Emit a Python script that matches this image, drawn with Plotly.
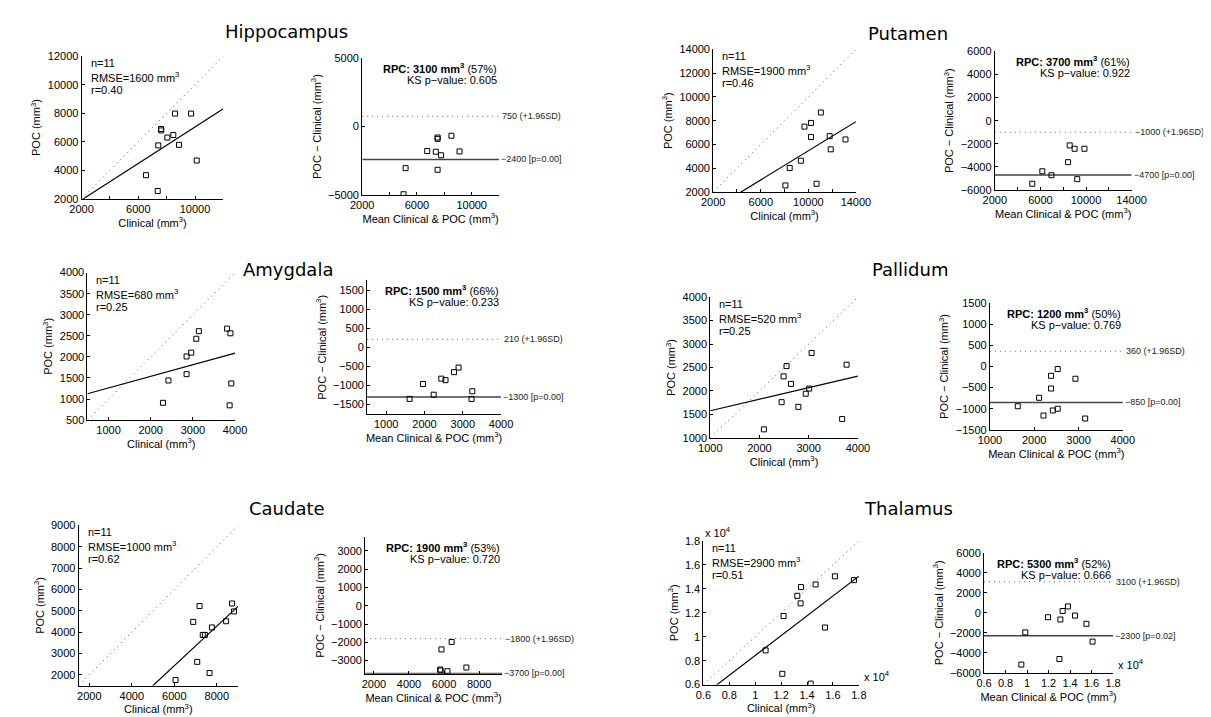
import plotly.graph_objects as go

W, H = 1211, 717
FONT = "Liberation Sans, Arial, sans-serif"
TFONT = "DejaVu Sans, Verdana, sans-serif"

regions = ["Hippocampus", "Putamen", "Amygdala", "Pallidum", "Caudate", "Thalamus"]

# ---------------- data ----------------
hip_clin = [8590, 9720, 7600, 7620, 8470, 8050, 7410, 8870, 10120, 6540, 7370]
hip_poc = [7980, 7980, 6900, 6800, 6480, 6300, 5750, 5790, 4690, 3660, 2550]
hip_mean = [8520, 7510, 7510, 6750, 7380, 7760, 9110, 5170, 7510, 5020]
hip_diff = [-670, -800, -900, -1790, -1840, -2100, -1820, -3040, -3160, -4950]

put_clin = [11050, 10220, 9670, 10220, 11790, 13120, 11880, 9370, 8430, 8070, 10690]
put_poc = [8690, 7810, 7500, 6620, 6700, 6420, 5590, 4630, 4020, 2550, 2690]
put_mean = [8570, 9000, 9860, 8430, 6170, 6970, 9230, 5290]
put_diff = [-2140, -2430, -2430, -3590, -4380, -4720, -5060, -5460]

amy_clin = [3810, 3890, 3140, 3080, 2960, 2850, 2850, 2420, 2290, 3910, 3870]
amy_poc = [2670, 2560, 2610, 2430, 2100, 2010, 1590, 1440, 910, 1370, 850]
amy_mean = [2890, 2770, 2440, 2550, 1960, 2240, 1610, 3250, 3230]
amy_diff = [-530, -650, -820, -860, -960, -1240, -1350, -1150, -1350]

pal_clin = [3060, 3770, 2550, 2490, 2640, 3010, 2940, 2450, 2790, 3680, 2090]
pal_poc = [2810, 2560, 2530, 2310, 2150, 2050, 1940, 1760, 1660, 1400, 1180]
pal_mean = [2530, 2380, 2930, 2380, 2110, 1630, 2420, 2530, 2210, 3150]
pal_diff = [-60, -220, -290, -520, -740, -940, -1040, -1000, -1160, -1230]

cau_clin = [8720, 8810, 7190, 6890, 8440, 7770, 7340, 7440, 7080, 7660, 6060]
cau_poc = [5340, 4970, 5220, 4480, 4510, 4220, 3870, 3870, 2610, 2090, 1760]
cau_mean = [5850, 6430, 5780, 5800, 6190, 7270]
cau_diff = [-2390, -1980, -3490, -3540, -3580, -3380]

tha_clin = [16150, 17620, 14660, 13530, 13250, 13500, 12190, 15390, 10800, 12090, 14280]
tha_poc = [15050, 14730, 14370, 14150, 13420, 12790, 11730, 10770, 8860, 6900, 6080]
tha_mean = [13800, 13310, 14460, 11950, 13100, 15520, 9840, 16090, 13010, 9470]
tha_diff = [640, 180, -280, -440, -670, -1100, -1960, -2880, -4620, -5180]

fit_slope = [0.64, 0.613, 0.275, 0.246, 0.926, 0.829]
fit_icpt = [645, -663, 988, 1330, -3128, 146]

n_subj = [11, 11, 11, 11, 11, 11]
rmse = [1600, 1900, 680, 520, 1000, 2900]
r_val = ["0.40", "0.46", "0.25", "0.25", "0.62", "0.51"]
rpc = [3100, 3700, 1500, 1200, 1900, 5300]
rpc_pct = [57, 61, 66, 50, 53, 52]
ks_p = ["0.605", "0.922", "0.233", "0.769", "0.720", "0.666"]
sd_upper = [750, -1000, 210, 360, -1800, 3100]
bias = [-2400, -4700, -1300, -850, -3700, -2300]
bias_p = ["0.00", "0.00", "0.00", "0.00", "0.00", "0.02"]

clinical = [hip_clin, put_clin, amy_clin, pal_clin, cau_clin, tha_clin]
poc = [hip_poc, put_poc, amy_poc, pal_poc, cau_poc, tha_poc]
ba_mean = [hip_mean, put_mean, amy_mean, pal_mean, cau_mean, tha_mean]
ba_diff = [hip_diff, put_diff, amy_diff, pal_diff, cau_diff, tha_diff]

# ---------------- layout configuration ----------------
sc_box = [(63, 208, 43, 188), (709, 855, 36, 181), (69, 220, 263, 413),
          (706, 857, 288, 431), (60, 223, 520, 683), (699, 858, 536, 682)]
ba_box = [(350, 490, 45, 184), (997, 1137, 38, 179), (355, 492, 271, 407),
          (992, 1128, 294, 423), (353, 493, 532, 671), (986, 1118, 548, 670)]
title_pos = [(273, 18), (908, 20), (274, 260), (910, 260), (273, 503), (909, 503)]

sc_range = [(2000, 12000), (2000, 14000), (500, 4000), (1000, 4000), (1500, 9000), (6000, 18000)]
ba_xrange = [(2000, 12000), (2000, 14000), (500, 4000), (1000, 4000), (1500, 9300), (6000, 18000)]
ba_yrange = [(-5000, 5000), (-6000, 6000), (-1750, 1750), (-1500, 1500), (-3720, 3750), (-6000, 6000)]

# (tick values, labelled values)
sc_xticks = [
    (list(range(2000, 12001, 2000)), [2000, 6000, 10000]),
    (list(range(2000, 14001, 2000)), [2000, 6000, 10000, 14000]),
    (list(range(1000, 4001, 1000)), list(range(1000, 4001, 1000))),
    (list(range(1000, 4001, 1000)), list(range(1000, 4001, 1000))),
    (list(range(2000, 8001, 2000)), list(range(2000, 8001, 2000))),
    (list(range(6000, 18001, 2000)), list(range(6000, 18001, 2000))),
]
sc_yticks = [
    list(range(2000, 12001, 2000)),
    list(range(2000, 14001, 2000)),
    list(range(500, 4001, 500)),
    list(range(1000, 4001, 500)),
    list(range(2000, 9001, 1000)),
    list(range(6000, 18001, 2000)),
]
ba_yticks = [
    [-5000, 0, 5000],
    list(range(-6000, 6001, 2000)),
    list(range(-1500, 1501, 500)),
    list(range(-1500, 1501, 500)),
    list(range(-3000, 3001, 1000)),
    list(range(-6000, 6001, 2000)),
]
sci = [False, False, False, False, False, True]

DOT = "1px,4px"


def fmt(v, scaled):
    if scaled:
        s = ("%.1f" % (v / 1e4)).rstrip("0").rstrip(".")
        return s
    return ("−" + str(-v)) if v < 0 else str(v)


def dom(b):
    x0, x1, y0, y1 = b
    return [x0 / W, x1 / W], [1 - y1 / H, 1 - y0 / H]


def axis_style(domain, rng, tickvals, ticktext, anchor, title):
    return dict(
        domain=domain, range=list(rng), anchor=anchor,
        showline=True, linecolor="black", linewidth=1,
        ticks="inside", ticklen=3, tickwidth=1, tickcolor="black",
        showgrid=False, zeroline=False,
        tickmode="array", tickvals=tickvals, ticktext=ticktext,
        tickfont=dict(family=FONT, size=11, color="black"),
        title=dict(text=title, font=dict(family=FONT, size=11, color="black"), standoff=4),
    )


fig = go.Figure()
layout = {}
annotations = []


def txt(xref, yref, x, y, text, size=11, xanchor="left", yanchor="middle", xshift=0, yshift=0,
        color="black", family=FONT):
    annotations.append(dict(xref=xref, yref=yref, x=x, y=y, xanchor=xanchor, yanchor=yanchor,
                            xshift=xshift, yshift=yshift, showarrow=False, text=text,
                            font=dict(family=family, size=size, color=color)))


for k in range(6):
    isc = 2 * k + 1
    iba = 2 * k + 2
    sx = "x" if isc == 1 else "x%d" % isc
    sy = "y" if isc == 1 else "y%d" % isc
    bx = "x%d" % iba
    by = "y%d" % iba
    lo, hi = sc_range[k]
    scaled = sci[k]

    # ---- scatter panel ----
    fig.add_trace(go.Scatter(x=[lo, hi], y=[lo, hi], mode="lines",
                             line=dict(color="#555", width=1, dash=DOT),
                             xaxis=sx, yaxis=sy, showlegend=False, hoverinfo="skip"))
    fig.add_trace(go.Scatter(x=[lo, hi], y=[fit_slope[k] * lo + fit_icpt[k], fit_slope[k] * hi + fit_icpt[k]],
                             mode="lines", line=dict(color="black", width=1.2),
                             xaxis=sx, yaxis=sy, showlegend=False, hoverinfo="skip"))
    fig.add_trace(go.Scatter(x=clinical[k], y=poc[k], mode="markers",
                             marker=dict(symbol="square-open", size=5, color="black", line=dict(width=1)),
                             xaxis=sx, yaxis=sy, showlegend=False))

    xd, yd = dom(sc_box[k])
    tv, lab = sc_xticks[k]
    layout["xaxis" if isc == 1 else "xaxis%d" % isc] = axis_style(
        xd, sc_range[k], tv, [fmt(v, scaled) if v in lab else "" for v in tv], sy,
        "Clinical (mm<sup>3</sup>)")
    yt = sc_yticks[k]
    layout["yaxis" if isc == 1 else "yaxis%d" % isc] = axis_style(
        yd, sc_range[k], yt, [fmt(v, scaled) for v in yt], sx, "POC (mm<sup>3</sup>)")

    sdx, sdy = sx + " domain", sy + " domain"
    txt(sdx, sdy, 0, 1, "n=%d" % n_subj[k], xshift=7, yshift=-7)
    txt(sdx, sdy, 0, 1, "RMSE=%d mm<sup>3</sup>" % rmse[k], xshift=7, yshift=-21)
    txt(sdx, sdy, 0, 1, "r=%s" % r_val[k], xshift=7, yshift=-34)

    # ---- Bland-Altman panel ----
    blo, bhi = ba_xrange[k]
    fig.add_trace(go.Scatter(x=[blo, bhi], y=[sd_upper[k], sd_upper[k]], mode="lines",
                             line=dict(color="#666", width=1, dash=DOT),
                             xaxis=bx, yaxis=by, showlegend=False, hoverinfo="skip"))
    fig.add_trace(go.Scatter(x=[blo, bhi], y=[bias[k], bias[k]], mode="lines",
                             line=dict(color="#444", width=1.5),
                             xaxis=bx, yaxis=by, showlegend=False, hoverinfo="skip"))
    fig.add_trace(go.Scatter(x=ba_mean[k], y=ba_diff[k], mode="markers",
                             marker=dict(symbol="square-open", size=5, color="black", line=dict(width=1)),
                             xaxis=bx, yaxis=by, showlegend=False))

    xd, yd = dom(ba_box[k])
    bxt = [v for v in tv if blo <= v <= bhi]
    layout["xaxis%d" % iba] = axis_style(
        xd, ba_xrange[k], bxt, [fmt(v, scaled) if v in lab else "" for v in bxt], by,
        "Mean Clinical &amp; POC (mm<sup>3</sup>)")
    byt = ba_yticks[k]
    layout["yaxis%d" % iba] = axis_style(
        yd, ba_yrange[k], byt, [fmt(v, False) for v in byt], bx,
        "POC − Clinical (mm<sup>3</sup>)")

    bdx, bdy = bx + " domain", by + " domain"
    txt(bdx, bdy, 1, 1, "<b>RPC: %d mm<sup>3</sup></b> (%d%%)" % (rpc[k], rpc_pct[k]),
        xanchor="right", yshift=-10)
    txt(bdx, bdy, 1, 1, "KS p−value: %s" % ks_p[k], xanchor="right", yshift=-22)
    txt(bx, by, bhi, sd_upper[k], "%s (+1.96SD)" % fmt(sd_upper[k], False), size=9,
        xshift=1, color="#222")
    txt(bx, by, bhi, bias[k], "%s [p=%s]" % (fmt(bias[k], False), bias_p[k]), size=9,
        color="#222")

    if scaled:
        txt(sdx, sdy, 0, 1, "x 10<sup>4</sup>", yanchor="bottom")
        txt(sdx, sdy, 1, 0, "x 10<sup>4</sup>", yanchor="bottom", xshift=3)
        txt(bdx, bdy, 1, 0, "x 10<sup>4</sup>", yanchor="bottom", xshift=3)

    cx, cy = title_pos[k]
    txt("paper", "paper", cx / W, 1 - cy / H, regions[k], size=18, xanchor="center",
        family=TFONT)

fig.update_layout(
    width=W, height=H,
    margin=dict(l=0, r=0, t=0, b=0),
    paper_bgcolor="white", plot_bgcolor="white",
    showlegend=False,
    annotations=annotations,
    **layout,
)

fig.write_html("out.html")
